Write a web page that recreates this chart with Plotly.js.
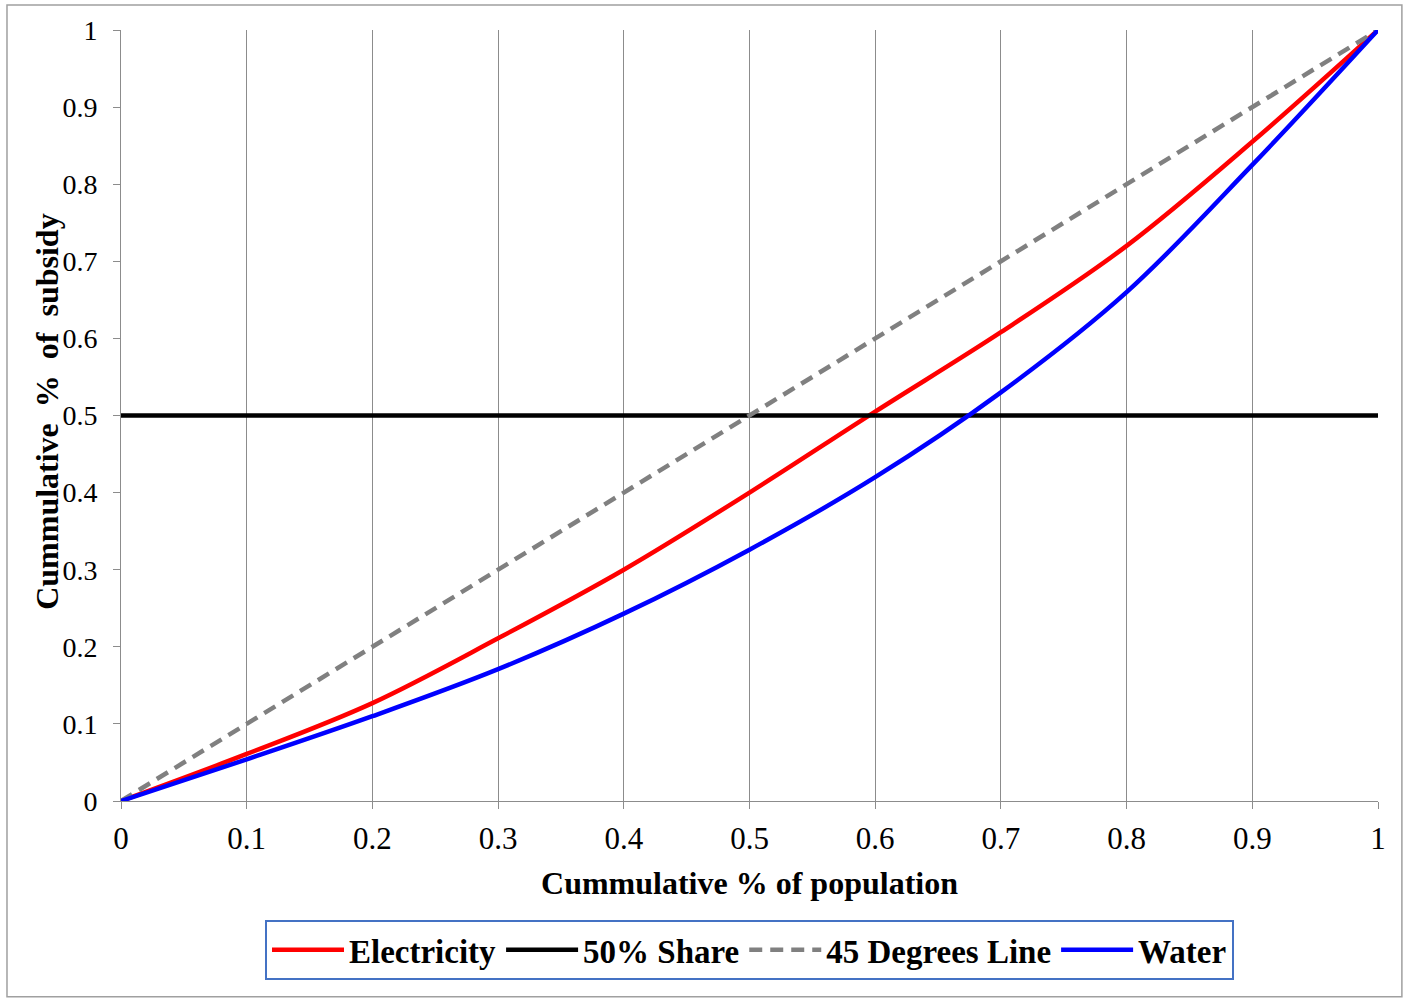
<!DOCTYPE html>
<html><head><meta charset="utf-8">
<script src="https://cdn.plot.ly/plotly-3.0.1.min.js"></script>
<style>html,body{margin:0;padding:0;background:#fff}#c{width:1406px;height:998px}</style>
</head><body><div id="c"></div>
<script>
const popShare = [0, 0.1, 0.2, 0.3, 0.4, 0.5, 0.6, 0.7, 0.8, 0.9, 1];
const electricity = [0, 0.061, 0.127, 0.211, 0.300, 0.400, 0.505, 0.608, 0.720, 0.855, 1];
const water = [0, 0.054, 0.110, 0.171, 0.243, 0.326, 0.420, 0.530, 0.660, 0.825, 1];
const shareX = [0, 1];
const share50 = [0.5, 0.5];
const degX = [0, 1];
const deg45 = [0, 1];
const xTicks = [0, 0.1, 0.2, 0.3, 0.4, 0.5, 0.6, 0.7, 0.8, 0.9, 1];
const yTicks = [0, 0.1, 0.2, 0.3, 0.4, 0.5, 0.6, 0.7, 0.8, 0.9, 1];

const font = 'Liberation Serif, Times New Roman, serif';
const traces = [
  {x: popShare, y: electricity, name: 'Electricity', mode: 'lines', line: {color: '#ff0000', width: 4.5, shape: 'spline'}},
  {x: shareX, y: share50, name: '50% Share', mode: 'lines', line: {color: '#000000', width: 4.5}},
  {x: degX, y: deg45, name: '45 Degrees Line', mode: 'lines', line: {color: '#808080', width: 4.5, dash: '13px,8px'}},
  {x: popShare, y: water, name: 'Water', mode: 'lines', line: {color: '#0000ff', width: 4.5, shape: 'spline'}}
];
const layout = {
  width: 1406, height: 998,
  margin: {l: 121, r: 28, t: 30, b: 197},
  paper_bgcolor: '#fff', plot_bgcolor: '#fff',
  font: {family: font, color: '#000', size: 28},
  showlegend: true,
  legend: {orientation: 'h', x: 0.5, xanchor: 'center', y: -0.193, yanchor: 'middle',
    bordercolor: '#4472C4', borderwidth: 2, font: {family: font, size: 33, weight: 'bold'},
    itemwidth: 72, tracegroupgap: 0, traceorder: 'normal'},
  xaxis: {range: [0, 1], tickvals: xTicks, ticktext: xTicks.map(String), showgrid: true,
    gridcolor: '#8c8c8c', gridwidth: 1, showline: true, linecolor: '#8c8c8c', linewidth: 1,
    ticks: 'outside', ticklen: 7, tickcolor: '#8c8c8c', zeroline: false,
    tickfont: {family: font, size: 31}, ticklabelstandoff: 3,
    title: {text: '<b>Cummulative % of population</b>', font: {family: font, size: 32}, standoff: 16}},
  yaxis: {range: [0, 1], tickvals: yTicks, ticktext: yTicks.map(String), showgrid: false,
    showline: true, linecolor: '#8c8c8c', linewidth: 1, ticks: 'outside', ticklen: 7,
    tickcolor: '#8c8c8c', zeroline: false, tickfont: {family: font, size: 28}, ticklabelstandoff: 10},
  annotations: [{text: '<b>Cummulative  %  of  subsidy</b>', xref: 'paper', yref: 'paper',
    x: -0.0589, y: 0.506, xanchor: 'center', yanchor: 'middle', textangle: -90, showarrow: false,
    font: {family: font, size: 32}}],
  shapes: [{type: 'rect', xref: 'paper', yref: 'paper', x0: -0.0907, x1: 1.019, y0: -0.254, y1: 1.0324,
    line: {color: '#a0a0a0', width: 1.5}, fillcolor: 'rgba(0,0,0,0)', layer: 'below'}]
};
Plotly.newPlot('c', traces, layout, {displayModeBar: false, staticPlot: true});
</script></body></html>
